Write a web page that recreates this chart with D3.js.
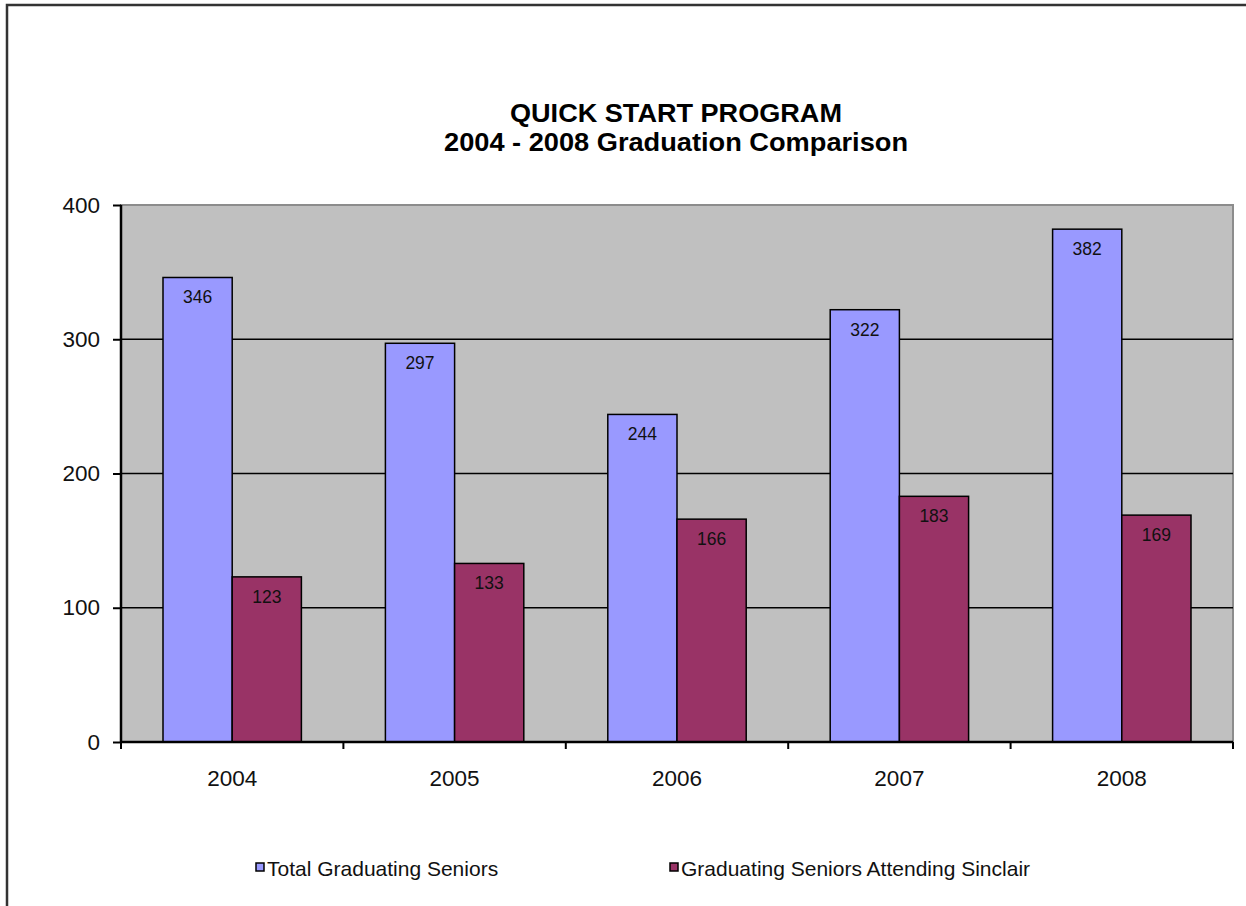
<!DOCTYPE html>
<html lang="en">
<head>
<meta charset="UTF-8">
<title>Quick Start Program</title>
<script src="https://d3js.org/d3.v7.min.js"></script>
<style>
  body { margin: 0; background: #fff; font-family: "Liberation Sans", Arial, sans-serif; }
</style>
</head>
<body>
<div id="chart"></div>
<script>
// data
var years = ["2004", "2005", "2006", "2007", "2008"];
var totalSeniors = [346, 297, 244, 322, 382];
var sinclairSeniors = [123, 133, 166, 183, 169];
var seriesNames = ["Total Graduating Seniors", "Graduating Seniors Attending Sinclair"];
var seriesColors = ["#9999ff", "#993366"];
var yTicks = [0, 100, 200, 300, 400];

var W = 1246, H = 906;
var plot = {left: 121, right: 1233, top: 205, bottom: 742};

var svg = d3.select("#chart").append("svg")
    .attr("width", W).attr("height", H);

// outer frame
svg.append("path")
    .attr("d", "M7,906 V5 H1246")
    .attr("fill", "none").attr("stroke", "#333").attr("stroke-width", 2.5);

// title (two lines, stretched a little to the reference width)
var title = svg.append("text").attr("text-anchor", "middle")
    .attr("font-weight", "bold").attr("font-size", 25);
title.append("tspan").attr("x", 676).attr("y", 122)
    .attr("textLength", 332).attr("lengthAdjust", "spacingAndGlyphs")
    .text("QUICK START PROGRAM");
title.append("tspan").attr("x", 676).attr("y", 151)
    .attr("textLength", 464).attr("lengthAdjust", "spacingAndGlyphs")
    .text("2004 - 2008 Graduation Comparison");

var x0 = d3.scaleBand().domain(years).range([plot.left, plot.right]).paddingInner(0).paddingOuter(0);
var groupPad = 42;
var x1 = d3.scaleBand().domain([0, 1]).range([groupPad, x0.bandwidth() - groupPad]);
var y = d3.scaleLinear().domain([0, 400]).range([plot.bottom, plot.top]);

// plot background
svg.append("rect")
    .attr("x", plot.left).attr("y", plot.top)
    .attr("width", plot.right - plot.left).attr("height", plot.bottom - plot.top)
    .attr("fill", "#c0c0c0").attr("stroke", "#8c8c8c").attr("stroke-width", 2);

// gridlines
svg.append("g").selectAll("line")
    .data(yTicks.filter(function(d) { return d > 0 && d < 400; }))
    .enter().append("line")
    .attr("x1", plot.left).attr("x2", plot.right)
    .attr("y1", function(d) { return y(d); }).attr("y2", function(d) { return y(d); })
    .attr("stroke", "#000").attr("stroke-width", 1.5);

// bars
var rows = years.map(function(yr, i) { return {year: yr, vals: [totalSeniors[i], sinclairSeniors[i]]}; });
var groups = svg.append("g").selectAll("g").data(rows).enter().append("g")
    .attr("transform", function(d) { return "translate(" + x0(d.year) + ",0)"; });

groups.selectAll("rect").data(function(d) { return d.vals.map(function(v, k) { return {k: k, v: v}; }); })
    .enter().append("rect")
    .attr("x", function(d) { return x1(d.k); })
    .attr("y", function(d) { return y(d.v); })
    .attr("width", x1.bandwidth())
    .attr("height", function(d) { return y(0) - y(d.v); })
    .attr("fill", function(d) { return seriesColors[d.k]; })
    .attr("stroke", "#000").attr("stroke-width", 1.5);

groups.selectAll("text").data(function(d) { return d.vals.map(function(v, k) { return {k: k, v: v}; }); })
    .enter().append("text")
    .attr("x", function(d) { return x1(d.k) + x1.bandwidth() / 2; })
    .attr("y", function(d) { return y(d.v) + 26; })
    .attr("text-anchor", "middle").attr("font-size", 17.5).attr("fill", "#111")
    .text(function(d) { return d.v; });

// y axis
var yAxis = svg.append("g").attr("transform", "translate(" + plot.left + ",0)")
    .call(d3.axisLeft(y).tickValues(yTicks).tickSize(8).tickPadding(13));
yAxis.select(".domain").attr("stroke", "#000").attr("stroke-width", 2.5)
    .attr("d", "M0," + plot.top + "V" + plot.bottom);
yAxis.selectAll(".tick line").attr("stroke", "#000").attr("stroke-width", 2);
yAxis.selectAll(".tick text").attr("font-size", 22.5).attr("fill", "#111")
    .attr("font-family", "Liberation Sans, Arial, sans-serif");

// x axis
var xAxis = svg.append("g").attr("transform", "translate(0," + plot.bottom + ")");
xAxis.append("line").attr("x1", plot.left).attr("x2", plot.right)
    .attr("stroke", "#000").attr("stroke-width", 2.5);
xAxis.selectAll(".xt").data(d3.range(years.length + 1)).enter().append("line")
    .attr("x1", function(i) { return plot.left + i * x0.bandwidth(); })
    .attr("x2", function(i) { return plot.left + i * x0.bandwidth(); })
    .attr("y1", 0).attr("y2", 7)
    .attr("stroke", "#000").attr("stroke-width", 2);
xAxis.selectAll(".xl").data(years).enter().append("text")
    .attr("x", function(d) { return x0(d) + x0.bandwidth() / 2; })
    .attr("y", 44)
    .attr("text-anchor", "middle").attr("font-size", 22.5).attr("fill", "#111")
    .text(function(d) { return d; });

// legend
var legendX = [256, 670];
var legend = svg.append("g").selectAll("g").data(seriesNames).enter().append("g")
    .attr("transform", function(d, i) { return "translate(" + legendX[i] + ",863)"; });
legend.append("rect").attr("x", 0).attr("y", 0).attr("width", 8).attr("height", 8)
    .attr("fill", function(d, i) { return seriesColors[i]; })
    .attr("stroke", "#000").attr("stroke-width", 1.5);
legend.append("text").attr("x", 11).attr("y", 13).attr("font-size", 21).attr("fill", "#111")
    .text(function(d) { return d; });
</script>
</body>
</html>
